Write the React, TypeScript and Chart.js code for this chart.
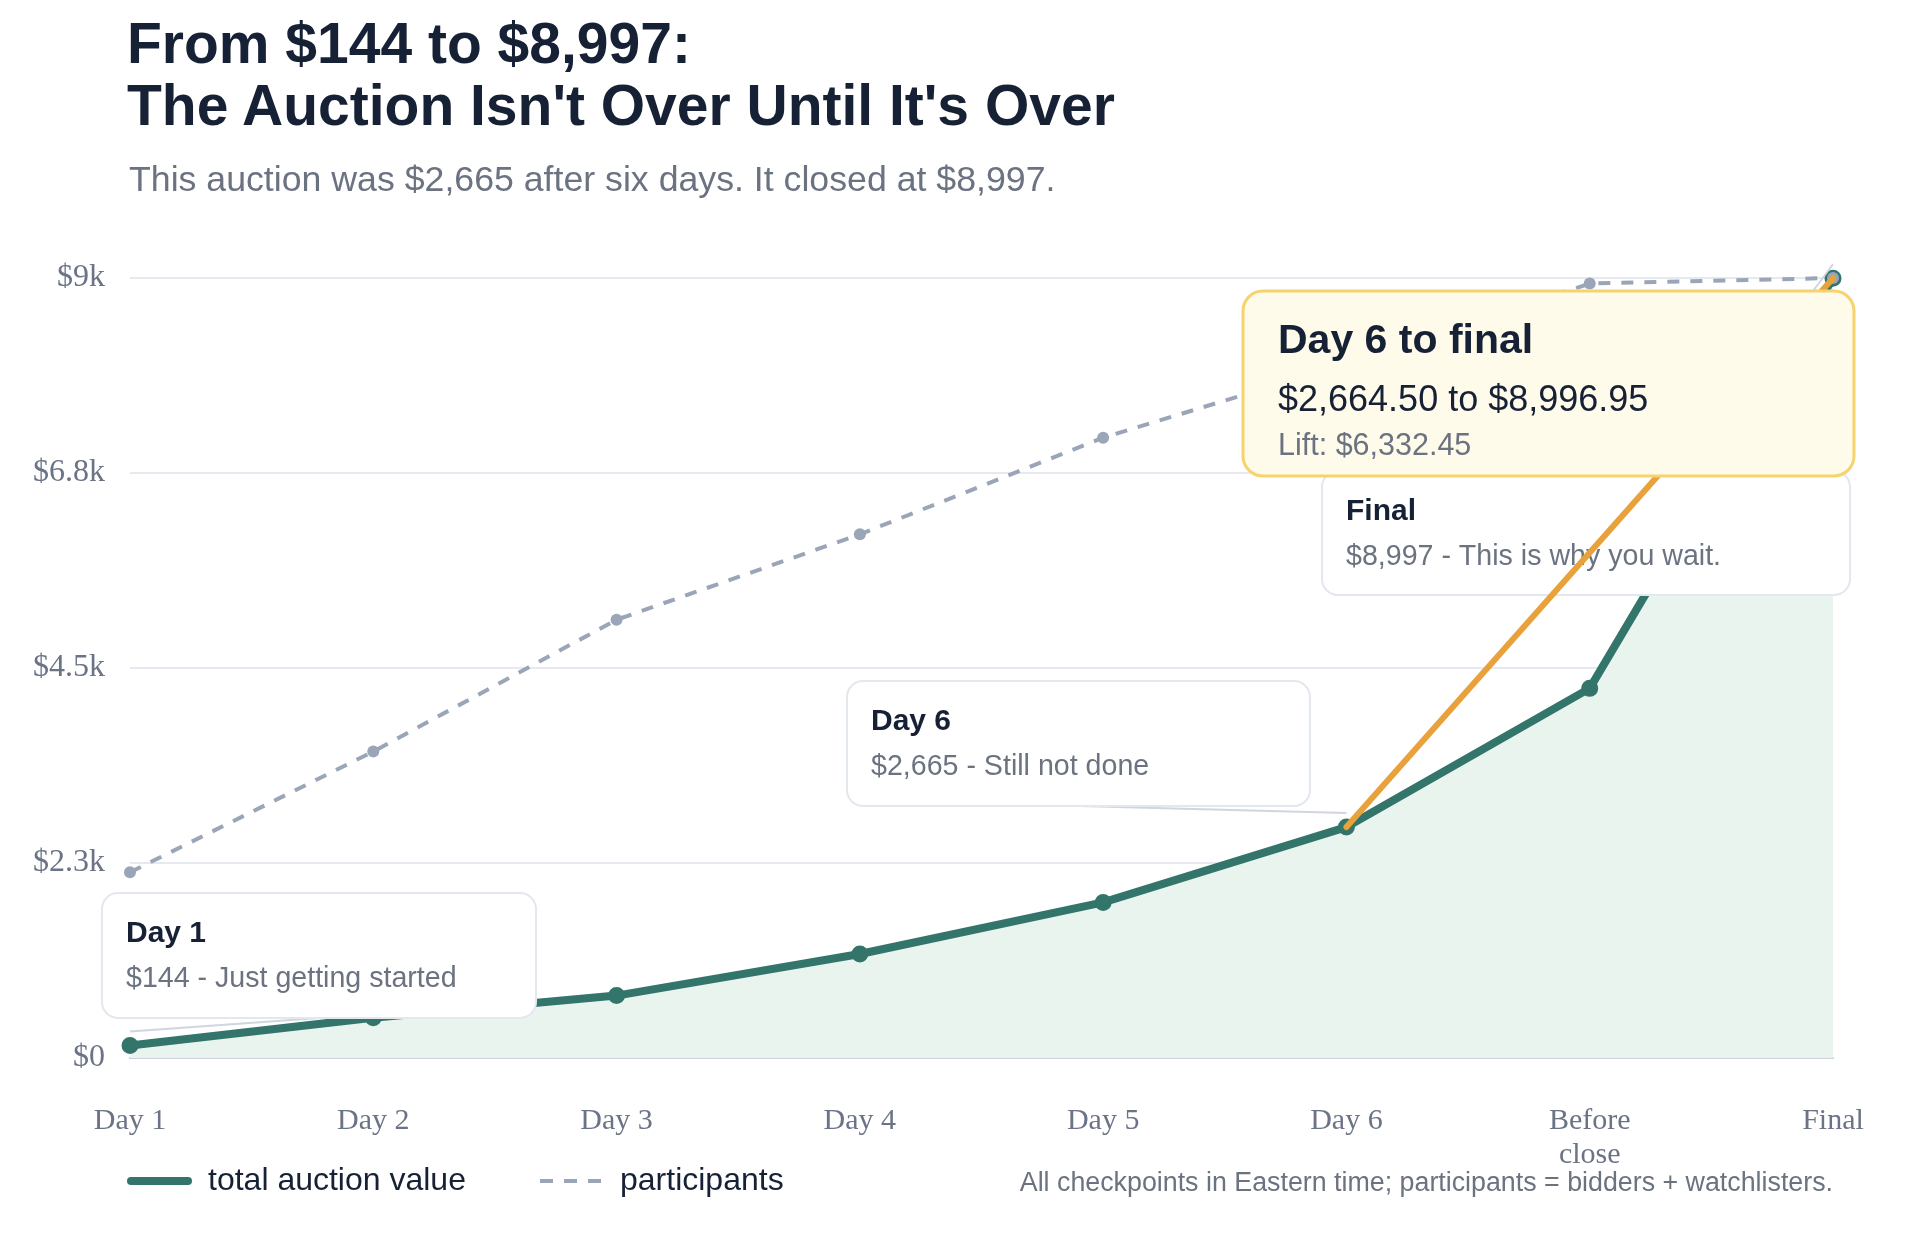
import React, { useEffect, useRef } from 'react';
import { Chart, registerables } from 'chart.js';

Chart.register(...registerables);

// Checkpoints along the auction timeline
const checkpoints: (string | string[])[] = ['Day 1', 'Day 2', 'Day 3', 'Day 4', 'Day 5', 'Day 6', ['Before', 'close'], 'Final'];
// Running total auction value in dollars
const totalValue = [144, 465, 720, 1200, 1795, 2664.5, 4265, 8996.95];
// Participants (bidders + watchlisters)
const participants = [100, 165, 236, 282, 334, 374, 417, 420];
// Value axis tick labels
const yTickLabels = ['$0', '$2.3k', '$4.5k', '$6.8k', '$9k'];

const dollars = (v: number) => '$' + Math.round(v).toLocaleString('en-US');
const cents = (v: number) =>
  '$' + v.toLocaleString('en-US', { minimumFractionDigits: 2, maximumFractionDigits: 2 });

const first = 0;
const sixth = 5;
const last = totalValue.length - 1;

const notes = [
  { at: first, title: 'Day 1', body: `${dollars(totalValue[first])} - Just getting started`, box: { x: 102, y: 893, w: 434, h: 125 } },
  { at: sixth, title: 'Day 6', body: `${dollars(totalValue[sixth])} - Still not done`, box: { x: 847, y: 681, w: 463, h: 125 } },
  { at: last, title: 'Final', body: `${dollars(totalValue[last])} - This is why you wait.`, box: { x: 1322, y: 471, w: 528, h: 124 } },
];

const highlight = {
  from: sixth,
  to: last,
  title: 'Day 6 to final',
  box: { x: 1243, y: 291, w: 611, h: 185 },
};

// legend row layout: sample start x, sample length, text x
const legendRow = {
  y: 1181,
  items: [
    { x: 131, len: 57, textX: 208, width: 8, dash: [] as number[], cap: 'round' as CanvasLineCap },
    { x: 540, len: 62, textX: 620, width: 4, dash: [13, 11], cap: 'butt' as CanvasLineCap },
  ],
};

const INK = '#172135';
const MUTED = '#6b7280';
const TEAL = '#33756a';
const SLATE = '#9aa5b8';
const AMBER = '#e9a23b';
const SANS = '"Liberation Sans", Arial, sans-serif';
const SERIF = '"Liberation Serif", "Times New Roman", serif';

function roundedRect(ctx: CanvasRenderingContext2D, x: number, y: number, w: number, h: number, r: number) {
  ctx.beginPath();
  ctx.moveTo(x + r, y);
  ctx.lineTo(x + w - r, y);
  ctx.arcTo(x + w, y, x + w, y + r, r);
  ctx.lineTo(x + w, y + h - r);
  ctx.arcTo(x + w, y + h, x + w - r, y + h, r);
  ctx.lineTo(x + r, y + h);
  ctx.arcTo(x, y + h, x, y + h - r, r);
  ctx.lineTo(x, y + r);
  ctx.arcTo(x, y, x + r, y, r);
  ctx.closePath();
}

const notesPlugin = {
  id: 'checkpointNotes',
  afterDatasetsDraw(chart: any) {
    const { ctx } = chart;
    const xs = chart.scales.x;
    const ys = chart.scales.y;
    const px = (i: number) => xs.getPixelForValue(i);
    const py = (i: number) => ys.getPixelForValue(totalValue[i]);

    ctx.save();

    // leader lines from each note to its point
    notes.forEach((n) => {
      ctx.beginPath();
      ctx.moveTo(n.box.x + n.box.w / 2, n.box.y + n.box.h);
      ctx.lineTo(px(n.at), py(n.at) - 14);
      ctx.strokeStyle = '#d0d5df';
      ctx.lineWidth = 2;
      ctx.stroke();
    });

    // note cards
    notes.forEach((n) => {
      const b = n.box;
      roundedRect(ctx, b.x, b.y, b.w, b.h, 16);
      ctx.fillStyle = '#ffffff';
      ctx.fill();
      ctx.strokeStyle = '#e3e7ee';
      ctx.lineWidth = 2;
      ctx.stroke();
      ctx.textBaseline = 'middle';
      ctx.textAlign = 'left';
      ctx.fillStyle = INK;
      ctx.font = `bold 30px ${SANS}`;
      ctx.fillText(n.title, b.x + 24, b.y + 40.5);
      ctx.fillStyle = MUTED;
      ctx.font = `28.6px ${SANS}`;
      ctx.fillText(n.body, b.x + 24, b.y + 86.5);
    });

    // the Day 6 → final jump
    ctx.beginPath();
    ctx.moveTo(px(highlight.from), py(highlight.from));
    ctx.lineTo(px(highlight.to), py(highlight.to));
    ctx.strokeStyle = AMBER;
    ctx.lineWidth = 6;
    ctx.lineCap = 'round';
    ctx.stroke();

    // highlight card
    const hb = highlight.box;
    roundedRect(ctx, hb.x, hb.y, hb.w, hb.h, 20);
    ctx.fillStyle = '#fffbeb';
    ctx.fill();
    ctx.strokeStyle = '#f6d36c';
    ctx.lineWidth = 3;
    ctx.stroke();
    const a = totalValue[highlight.from];
    const z = totalValue[highlight.to];
    ctx.textBaseline = 'middle';
    ctx.textAlign = 'left';
    ctx.fillStyle = INK;
    ctx.font = `bold 41px ${SANS}`;
    ctx.fillText(highlight.title, hb.x + 35, hb.y + 51);
    ctx.font = `36px ${SANS}`;
    ctx.fillText(`${cents(a)} to ${cents(z)}`, hb.x + 35, hb.y + 110);
    ctx.fillStyle = MUTED;
    ctx.font = `30.5px ${SANS}`;
    ctx.fillText(`Lift: ${cents(z - a)}`, hb.x + 35, hb.y + 156);

    ctx.restore();
  },
  afterDraw(chart: any) {
    // series key below the axis
    const { ctx } = chart;
    ctx.save();
    chart.data.datasets.forEach((ds: any, i: number) => {
      const item = legendRow.items[i];
      if (!item) return;
      ctx.beginPath();
      ctx.moveTo(item.x, legendRow.y);
      ctx.lineTo(item.x + item.len, legendRow.y);
      ctx.strokeStyle = ds.borderColor;
      ctx.lineWidth = item.width;
      ctx.lineCap = item.cap;
      ctx.setLineDash(item.dash);
      ctx.stroke();
      ctx.setLineDash([]);
      ctx.fillStyle = INK;
      ctx.font = `32px ${SANS}`;
      ctx.textBaseline = 'middle';
      ctx.textAlign = 'left';
      ctx.fillText(ds.label, item.textX, legendRow.y);
    });
    ctx.restore();
  },
};

export default function App() {
  const canvasRef = useRef<HTMLCanvasElement | null>(null);

  useEffect(() => {
    const canvas = canvasRef.current;
    if (!canvas) return;
    Chart.defaults.font.family = SANS;

    const chart = new Chart(canvas, {
      type: 'line',
      data: {
        labels: checkpoints,
        datasets: [
          {
            label: 'total auction value',
            data: totalValue,
            yAxisID: 'y',
            borderColor: TEAL,
            backgroundColor: '#eaf4ef',
            fill: 'origin',
            borderWidth: 8,
            borderCapStyle: 'round',
            borderJoinStyle: 'round',
            pointRadius: 7.5,
            pointBorderWidth: 2,
            pointBackgroundColor: TEAL,
            pointBorderColor: TEAL,
            tension: 0,
            clip: false,
            order: 2,
          },
          {
            label: 'participants',
            data: participants,
            yAxisID: 'y1',
            borderColor: SLATE,
            backgroundColor: SLATE,
            borderDash: [12, 11],
            borderWidth: 4,
            pointRadius: 6,
            pointBorderWidth: 0,
            pointBackgroundColor: SLATE,
            fill: false,
            tension: 0,
            clip: false,
            order: 1,
          },
        ],
      } as any,
      options: {
        responsive: false,
        animation: false,
        devicePixelRatio: 1,
        events: [],
        layout: { padding: { left: 0, right: 87, top: 278, bottom: 0 } },
        scales: {
          x: {
            offset: false,
            grid: { display: false, drawTicks: false },
            border: { display: true, color: '#cdd2dc', width: 2 },
            ticks: {
              color: '#6b7386',
              font: { family: SERIF, size: 30, lineHeight: 1.15 },
              padding: 45.5,
              maxRotation: 0,
              autoSkip: false,
            },
            afterFit: (scale: any) => {
              scale.height = 176;
            },
          },
          y: {
            min: 0,
            max: 9000,
            grid: { color: '#e6e9ef', lineWidth: 2, drawTicks: false },
            border: { display: false },
            ticks: {
              stepSize: 2250,
              color: '#6b7386',
              font: { family: SERIF, size: 32 },
              padding: 25,
              callback: (_v: any, i: number) => yTickLabels[i],
            },
            afterFit: (scale: any) => {
              scale.width = 130;
            },
          },
          y1: {
            display: false,
            min: 0,
            max: 420,
          },
        },
        plugins: {
          tooltip: { enabled: false },
          legend: { display: false },
        },
      } as any,
      plugins: [notesPlugin],
    });

    return () => chart.destroy();
  }, []);

  return (
    <div style={{ position: 'absolute', left: 0, top: 0, width: 1920, height: 1234, background: '#ffffff', overflow: 'hidden' }}>
      <canvas ref={canvasRef} width={1920} height={1234} style={{ position: 'absolute', left: 0, top: 0, width: 1920, height: 1234 }} />
      <div
        style={{
          position: 'absolute',
          left: 127,
          top: 12,
          fontFamily: SANS,
          fontWeight: 700,
          fontSize: 57,
          lineHeight: '62px',
          color: INK,
          whiteSpace: 'nowrap',
        }}
      >
        <div>{`From ${dollars(totalValue[first])} to ${dollars(totalValue[last])}:`}</div>
        <div>The Auction Isn't Over Until It's Over</div>
      </div>
      <div
        style={{
          position: 'absolute',
          left: 129,
          top: 158,
          fontFamily: SANS,
          fontSize: 35.7,
          lineHeight: '43px',
          color: MUTED,
          whiteSpace: 'nowrap',
        }}
      >
        {`This auction was ${dollars(totalValue[sixth])} after six days. It closed at ${dollars(totalValue[last])}.`}
      </div>
      <div
        style={{
          position: 'absolute',
          right: 87,
          top: 1166,
          fontFamily: SANS,
          fontSize: 26.8,
          lineHeight: '32px',
          color: MUTED,
          whiteSpace: 'nowrap',
          textAlign: 'right',
        }}
      >
        All checkpoints in Eastern time; participants = bidders + watchlisters.
      </div>
    </div>
  );
}
